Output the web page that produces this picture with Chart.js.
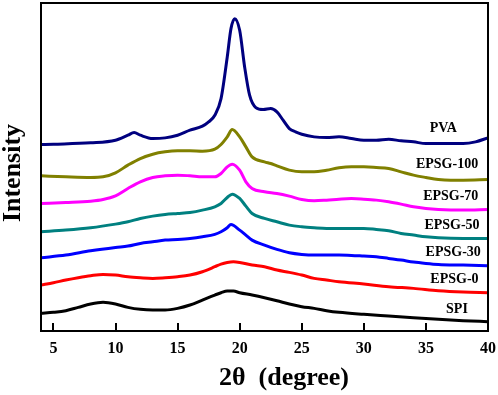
<!DOCTYPE html>
<html>
<head>
<meta charset="utf-8">
<script src="https://cdn.jsdelivr.net/npm/chart.js@4.4.1/dist/chart.umd.min.js"></script>
<style>
  html, body { margin: 0; padding: 0; background: #fff; }
  #wrap { width: 498px; height: 395px; }
</style>
</head>
<body>
<div id="wrap"><canvas id="xrd" width="498" height="395"></canvas></div>
<script>
// 2theta (degree) and intensity (a.u., curves already stacked)
var seriesNames = ["PVA", "EPSG-100", "EPSG-70", "EPSG-50", "EPSG-30", "EPSG-0", "SPI"];

var pvaX = [4,5,8,10,11,11.5,12,13,14,15,16,17,17.5,18,18.5,19,19.3,19.6,20,20.4,20.8,21.3,21.9,22.5,23,23.5,24,24.5,25,26,27,28,29,30,31,32,33,34,35,36,37,38,39,40];
var pvaY = [560,561,565,573,588,596,588,578,580,588,603,615,628,648,698,823,908,938,903,793,708,671,665,668,658,633,608,598,591,583,581,583,578,573,573,576,571,568,563,563,563,563,568,580];

var epsg100X = [4,6,8,9,10,11,12,13,14,15,16,17,18,18.5,19,19.4,20,20.5,21,22,22.5,23,24,25,26,27,28,29,30,31,32,33,34,35,36,37,38,40];
var epsg100Y = [466,463,461,463,475,498,518,531,538,541,541,540,546,560,583,605,583,553,523,508,503,496,483,478,478,483,490,493,493,491,488,478,468,461,455,453,453,455];

var epsg70X = [4,6,8,9,10,11,12,13,14,15,16,17,18,18.5,19,19.4,20,20.5,21,22,23,24,25,26,27,28,29,30,31,32,33,34,35,36,38,40];
var epsg70Y = [383,386,390,395,406,428,448,461,466,468,466,463,463,473,493,501,483,448,428,418,413,405,395,391,393,396,398,396,393,388,381,373,368,365,363,365];

var epsg50X = [4,6,8,10,11,12,13,14,15,16,17,18,18.5,19,19.4,20,20.5,21,22,23,24,25,26,27,28,29,30,31,32,33,34,35,36,38,40];
var epsg50Y = [298,303,310,321,328,338,345,350,353,356,363,373,383,401,411,398,375,353,338,328,318,313,310,308,308,308,308,305,301,293,288,283,280,278,278];

var epsg30X = [4,6,8,10,11,12,13,14,15,16,17,18,18.5,19,19.3,20,20.5,21,22,23,24,25,26,27,28,29,30,31,32,33,34,35,36,38,40];
var epsg30Y = [220,228,241,251,255,263,268,273,275,278,283,290,298,310,320,303,288,273,258,245,235,230,228,228,228,227,225,223,218,213,207,203,200,198,196];

var epsg0X = [4,5,6,7,8,9,10,11,12,13,14,15,16,17,18,18.5,19,19.5,20,21,22,23,24,25,26,27,28,30,32,34,36,38,40];
var epsg0Y = [138,145,153,160,166,170,168,163,160,158,160,163,168,178,193,201,206,208,206,198,193,183,176,168,158,153,148,141,133,128,121,117,115];

var spiX = [4,5,6,7,8,9,10,11,12,13,14,15,16,17,18,18.5,19,19.5,20,21,22,23,24,25,26,27,28,30,32,34,36,38,40];
var spiY = [53,56,61,71,81,86,81,71,65,63,63,68,78,93,108,115,120,120,115,108,100,91,81,73,68,61,56,50,45,40,35,31,28];

var xTicks = [5,10,15,20,25,30,35,40];

var allX = [pvaX, epsg100X, epsg70X, epsg50X, epsg30X, epsg0X, spiX];
var allY = [pvaY, epsg100Y, epsg70Y, epsg50Y, epsg30Y, epsg0Y, spiY];
var colors = ["#00007f", "#808000", "#ff00ff", "#008080", "#0000ff", "#ff0000", "#000000"];

// where each curve name sits (in 2theta / intensity units)
var labelSpots = [[36.4,608],[36.7,500],[37.0,403],[37.1,317],[37.2,237],[37.3,155],[37.5,65]];

var serif = "'Liberation Serif', 'Times New Roman', serif";

function zip(xs, ys) {
    var pts = [];
    for (var i = 0; i < xs.length; i++) {
        pts.push({x: xs[i], y: ys[i]});
    }
    return pts;
}

var datasets = [];
for (var i = 0; i < seriesNames.length; i++) {
    datasets.push({
        label: seriesNames[i],
        data: zip(allX[i], allY[i]),
        borderColor: colors[i],
        backgroundColor: colors[i],
        borderWidth: 3,
        pointRadius: 0,
        cubicInterpolationMode: 'monotone',
        fill: false
    });
}

var framePlugin = {
    id: 'frame',
    afterDatasetsDraw: function(chart) {
        var ctx = chart.ctx;
        var a = chart.chartArea;
        var xs = chart.scales.x;
        var ys = chart.scales.y;
        ctx.save();

        // inward ticks on the bottom axis
        ctx.strokeStyle = '#000';
        ctx.lineWidth = 2;
        xTicks.forEach(function(t) {
            var px = Math.round(xs.getPixelForValue(t));
            ctx.beginPath();
            ctx.moveTo(px, a.bottom);
            ctx.lineTo(px, a.bottom - 8);
            ctx.stroke();
        });

        // box
        ctx.strokeRect(a.left, a.top, a.right - a.left, a.bottom - a.top);

        // curve names
        ctx.fillStyle = '#000';
        ctx.font = 'bold 14px ' + serif;
        ctx.textAlign = 'center';
        ctx.textBaseline = 'middle';
        for (var i = 0; i < seriesNames.length; i++) {
            ctx.fillText(seriesNames[i],
                xs.getPixelForValue(labelSpots[i][0]),
                ys.getPixelForValue(labelSpots[i][1]));
        }

        // axis titles
        ctx.font = 'bold 26px ' + serif;
        ctx.fillText('2\u03b8  (degree)', 284, 378);
        ctx.translate(13, 173);
        ctx.rotate(-Math.PI / 2);
        ctx.fillText('Intensity', 0, 0);
        ctx.restore();
    }
};

var ctx = document.getElementById('xrd').getContext('2d');
var chart = new Chart(ctx, {
    type: 'line',
    data: { datasets: datasets },
    options: {
        responsive: false,
        animation: false,
        layout: { padding: { top: 3, right: 10, left: 41, bottom: 0 } },
        plugins: {
            legend: { display: false },
            tooltip: { enabled: false }
        },
        scales: {
            x: {
                type: 'linear',
                min: 4,
                max: 40,
                grid: { display: false },
                border: { display: false },
                afterBuildTicks: function(s) {
                    s.ticks = xTicks.map(function(v) { return {value: v}; });
                },
                afterFit: function(s) { s.height = 64; },
                ticks: {
                    color: '#000',
                    padding: 0,
                    maxRotation: 0,
                    autoSkip: false,
                    font: { family: serif, weight: 'bold', size: 16 }
                }
            },
            y: {
                display: false,
                min: 0,
                max: 985
            }
        }
    },
    plugins: [framePlugin]
});
</script>
</body>
</html>
